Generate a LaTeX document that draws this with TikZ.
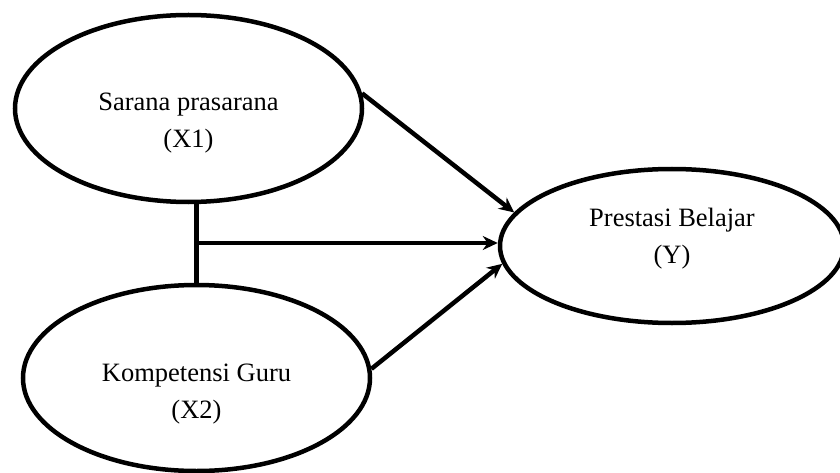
\documentclass[tikz,border=0pt]{standalone}
\usepackage{fontspec}
\setmainfont{Liberation Serif}
\usetikzlibrary{arrows.meta}
\usetikzlibrary{shapes.geometric}

\begin{document}
\begin{tikzpicture}[x=1pt, y=-1pt, ->, >={Stealth[length=15pt, width=14pt]}, line width=4.5pt]
  \tikzstyle{latent}=[ellipse, draw=black, inner sep=0pt]
  \tikzstyle{caption}=[align=center, font=\fontsize{26.5}{37}\selectfont, inner sep=0pt, text=black]
  \useasboundingbox (0,0) rectangle (840,473);

	\node[latent, minimum width=347pt, minimum height=187pt] (X1) at (188.5,108.5) {};
	\node[latent, minimum width=347pt, minimum height=186pt] (X2) at (196.5,378) {};
	\node[latent, minimum width=344pt, minimum height=154pt] (Y) at (672,246) {};

	\node[caption] (X1t) at ([yshift=-15pt]X1.center) {Sarana prasarana\\(X1)};
	\node[caption] (X2t) at ([yshift=-16pt]X2.center) {Kompetensi Guru\\(X2)};
	\node[caption] (Yt)  at ([yshift=7pt]Y.center) {Prestasi Belajar\\(Y)};

	\coordinate (J) at (197,243);

	\path
		(X2.north) edge [-] (X2.north |- X1.south)
		(J) edge (J -| Y.west)
		(X1.5) edge (Y.168)
		(X2.3) edge (Y.186)
		;

\end{tikzpicture}
\end{document}
